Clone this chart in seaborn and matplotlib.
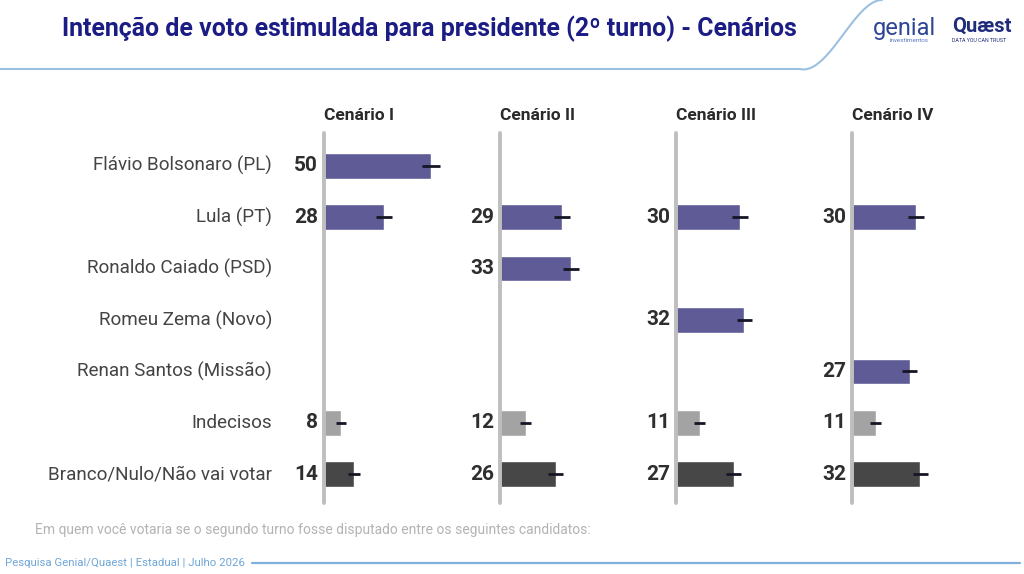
import numpy as np
import pandas as pd
import matplotlib
matplotlib.use("Agg")
import matplotlib.pyplot as plt
import seaborn as sns

# dados
candidatos = ["Flávio Bolsonaro (PL)", "Lula (PT)", "Ronaldo Caiado (PSD)",
              "Romeu Zema (Novo)", "Renan Santos (Missão)", "Indecisos",
              "Branco/Nulo/Não vai votar"]
cenarios = ["Cenário I", "Cenário II", "Cenário III", "Cenário IV"]
cen1 = [50, 28, None, None, None, 8, 14]
cen2 = [None, 29, 33, None, None, 12, 26]
cen3 = [None, 30, None, 32, None, 11, 27]
cen4 = [None, 30, None, None, 27, 11, 32]
# margem (meia largura do traço preto)
err1 = [4.0, 3.6, None, None, None, 2.4, 3.0]
err2 = [None, 3.6, 3.7, None, None, 2.7, 3.5]
err3 = [None, 3.6, None, 3.7, None, 2.7, 3.5]
err4 = [None, 3.6, None, None, 3.5, 2.7, 3.6]

valores = [cen1, cen2, cen3, cen4]
erros = [err1, err2, err3, err4]

roxo = "#5e5b96"
cinza_claro = "#a3a3a3"
cinza_escuro = "#474747"
cores = {c: roxo for c in candidatos}
cores["Indecisos"] = cinza_claro
cores["Branco/Nulo/Não vai votar"] = cinza_escuro

sns.set_theme(style="white")
plt.rcParams["font.family"] = ["Roboto", "DejaVu Sans"]

W, H = 1024, 574
fig = plt.figure(figsize=(W / 100, H / 100), dpi=100)
fig.patch.set_facecolor("white")

# titulo
fig.text(62 / W, 1 - 29 / H, "Intenção de voto estimulada para presidente (2º turno) - Cenários",
         color="#1b1c84", fontsize=17.9, fontweight="bold", va="center", ha="left")

# linha curva do cabeçalho
ax_bg = fig.add_axes([0, 0, 1, 1], zorder=-1)
ax_bg.set_xlim(0, W)
ax_bg.set_ylim(H, 0)
ax_bg.axis("off")
t = np.linspace(0, 1, 60)
xs = np.concatenate([np.linspace(0, 800, 40), 800 + 82 * t])
ys = np.concatenate([np.full(40, 69.0), 69 - 69 * (3 * t**2 - 2 * t**3) + 6 * np.sin(np.pi * t) * (1 - t)])
ax_bg.plot(xs, ys, color="#9cc0e0", lw=1.5)
ax_bg.plot([252, 1020], [563, 563], color="#7fb0dc", lw=1.6)

# logos (texto)
fig.text(873 / W, 1 - 28 / H, "genial", color="#2f4596", fontsize=17, ha="left", va="center")
fig.text(890 / W, 1 - 40 / H, "investimentos", color="#5a77c0", fontsize=4.5, ha="left", va="center")
fig.text(952 / W, 1 - 26 / H, "Quæst", color="#1f2c7a", fontsize=14.5, fontweight="bold", ha="left", va="center")
fig.text(952 / W, 1 - 40 / H, "DATA YOU CAN TRUST", color="#1f2c7a", fontsize=3.8, ha="left", va="center")

# rodape
fig.text(35 / W, 1 - 530 / H, "Em quem você votaria se o segundo turno fosse disputado entre os seguintes candidatos:",
         color="#b3b3b3", fontsize=10, ha="left", va="center")
fig.text(5 / W, 1 - 563 / H, "Pesquisa Genial/Quaest | Estadual | Julho 2026",
         color="#6fa6d6", fontsize=8.2, ha="left", va="center")

linhas_x = [324, 500, 676, 852]
ax_top, ax_bot = 140, 500
ax_h = ax_bot - ax_top
xmax = 176 / 2.14

for i, (cen, vals, errs) in enumerate(zip(cenarios, valores, erros)):
    ax = fig.add_axes([linhas_x[i] / W, 1 - ax_bot / H, 170 / W, ax_h / H])
    df = pd.DataFrame({"candidato": candidatos, "valor": vals, "erro": errs}).dropna()
    sns.barplot(data=df, x="valor", y="candidato", hue="candidato", order=candidatos,
                palette=cores, orient="h", width=0.5, legend=False, saturation=1, ax=ax)
    pos = [candidatos.index(c) for c in df["candidato"]]
    ax.errorbar(df["valor"], pos, xerr=df["erro"], fmt="none", ecolor="#151525",
                elinewidth=2.0, capsize=0, zorder=5)
    ax.set_xlim(0, xmax * 170 / 176)
    ax.set_ylim(6.5, -0.5)
    ax.axis("off")
    ax.axvline(0, ymin=-3 / ax_h, ymax=1 + 7 / ax_h, color="#bebebe", lw=2.8, clip_on=False)
    tr = ax.get_yaxis_transform()
    for c, v, p in zip(df["candidato"], df["valor"], pos):
        ax.text(-6 / 170, p, f"{int(v)}", transform=tr, ha="right", va="center",
                fontsize=15, fontweight="bold", color="#2e2e2e")
    ax.text(0, 1 + 25 / ax_h, cen, transform=ax.transAxes, ha="left", va="center",
            fontsize=12.5, fontweight="bold", color="#2a2a2a")
    if i == 0:
        for p, c in enumerate(candidatos):
            ax.text(-52 / 170, p, c, transform=tr, ha="right", va="center",
                    fontsize=13.6, color="#444444")

fig.savefig("out.png", dpi=100, facecolor="white")
